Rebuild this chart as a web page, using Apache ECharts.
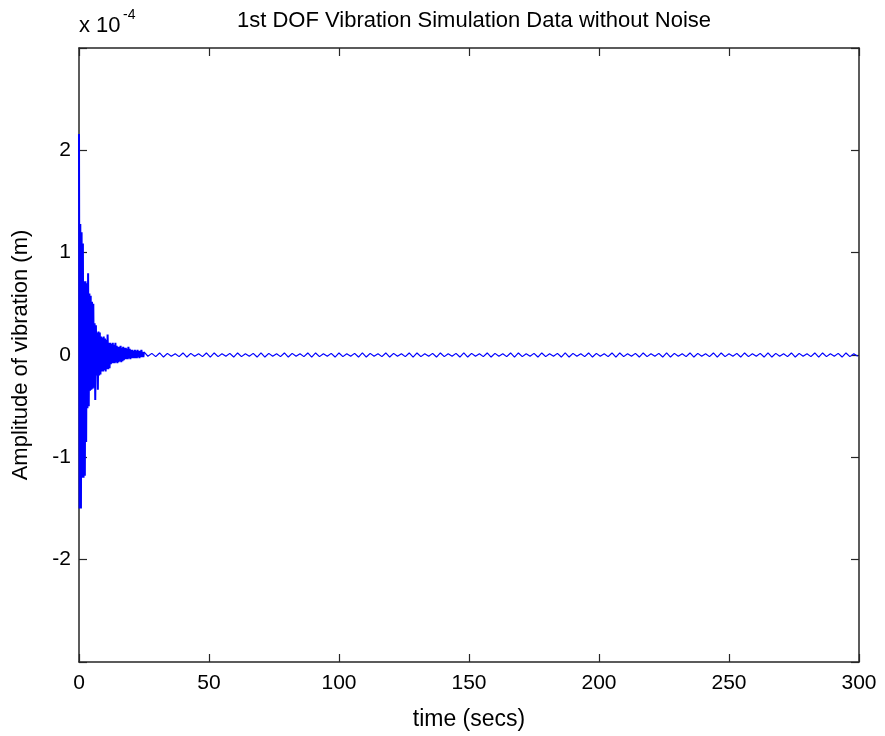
<!DOCTYPE html>
<html>
<head>
<meta charset="utf-8">
<script src="https://cdn.jsdelivr.net/npm/echarts@6/dist/echarts.min.js"></script>
<style>html,body{margin:0;padding:0;background:#fff;}#c{width:885px;height:736px;}</style>
</head>
<body>
<div id="c"></div>
<script>
// Values in units of 1e-4 m
const burstStep = 0.25;   // seconds between samples, t = 0 .. 25
const burstValues = [
  2.16,-1.50,1.28,-1.50,1.20,-1.20,1.09,-1.20,0.72,-1.18,
  0.72,-0.85,0.70,-0.52,0.80,-0.50,0.60,-0.35,0.58,-0.34,
  0.52,-0.33,0.50,-0.32,0.31,-0.44,0.29,-0.20,0.22,-0.34,
  0.23,-0.20,0.22,-0.19,0.18,-0.16,0.17,-0.16,0.18,-0.15,
  0.16,-0.16,0.15,-0.14,0.20,-0.14,0.12,-0.13,0.12,-0.09,
  0.11,-0.08,0.12,-0.08,0.10,-0.08,0.12,-0.07,0.09,-0.08,
  0.08,-0.07,0.08,-0.06,0.09,-0.07,0.07,-0.06,0.08,-0.05,
  0.07,-0.04,0.07,-0.04,0.06,-0.04,0.08,-0.03,0.06,-0.04,
  0.05,-0.03,0.05,-0.03,0.04,-0.03,0.05,-0.03,0.04,-0.03,
  0.05,-0.02,0.04,-0.03,0.04,-0.02,0.05,-0.02,0.03,-0.02,
  0.03
];
const tailStart = 26.5;
const tailStep = 1.5;    // seconds between samples, t = 26.5 .. 299.5
const tailValues = [
  -0.012,0.016,-0.016,0.02,-0.02,0.016,-0.012,0.012,-0.016,0.02,-0.02,0.016,
  -0.012,0.012,-0.016,0.02,-0.02,0.02,-0.016,0.012,-0.012,0.016,-0.02,0.02,
  -0.016,0.012,-0.012,0.016,-0.02,0.02,-0.02,0.016,-0.012,0.012,-0.016,0.02,
  -0.02,0.016,-0.012,0.012,-0.016,0.02,-0.02,0.02,-0.016,0.012,-0.012,0.016,
  -0.02,0.02,-0.016,0.012,-0.012,0.016,-0.02,0.02,-0.02,0.016,-0.012,0.012,
  -0.016,0.02,-0.02,0.016,-0.012,0.012,-0.016,0.02,-0.02,0.02,-0.016,0.012,
  -0.012,0.016,-0.02,0.02,-0.016,0.012,-0.012,0.016,-0.02,0.02,-0.02,0.016,
  -0.012,0.012,-0.016,0.02,-0.02,0.016,-0.012,0.012,-0.016,0.02,-0.02,0.02,
  -0.016,0.012,-0.012,0.016,-0.02,0.02,-0.016,0.012,-0.012,0.016,-0.02,0.02,
  -0.02,0.016,-0.012,0.012,-0.016,0.02,-0.02,0.016,-0.012,0.012,-0.016,0.02,
  -0.02,0.02,-0.016,0.012,-0.012,0.016,-0.02,0.02,-0.016,0.012,-0.012,0.016,
  -0.02,0.02,-0.02,0.016,-0.012,0.012,-0.016,0.02,-0.02,0.016,-0.012,0.012,
  -0.016,0.02,-0.02,0.02,-0.016,0.012,-0.012,0.016,-0.02,0.02,-0.016,0.012,
  -0.012,0.016,-0.02,0.02,-0.02,0.016,-0.012,0.012,-0.016,0.02,-0.02,0.016,
  -0.012,0.012,-0.016,0.02,-0.02,0.02,-0.016,0.012,-0.012,0.016,-0.02,0.02,
  -0.016,0.012,-0.012
];
const xTicks = [0, 50, 100, 150, 200, 250, 300];
const yTicks = [-2, -1, 0, 1, 2];

const burstData = burstValues.map((v, i) => [i * burstStep, v]);
const tailData = [burstData[burstData.length - 1]].concat(
  tailValues.map((v, i) => [tailStart + i * tailStep, v]));

const FONT = 'Liberation Sans, Arial, sans-serif';
const AX = '#262626';
const chart = echarts.init(document.getElementById('c'), null, {renderer: 'canvas'});
const grid = {left: 79, right: 26, top: 48, bottom: 67};
const common = {
  axisLine: {show: true, onZero: false, lineStyle: {color: AX, width: 1.5}},
  axisTick: {show: true, inside: true, length: 8, lineStyle: {color: AX, width: 1.2}},
  splitLine: {show: false}
};
chart.setOption({
  animation: false,
  backgroundColor: '#fff',
  title: {
    text: '1st DOF Vibration Simulation Data without Noise',
    left: (79 + 859) / 2, textAlign: 'center', top: 5,
    textStyle: {fontFamily: FONT, fontSize: 22, fontWeight: 'normal', color: '#000'}
  },
  grid: grid,
  xAxis: [
    Object.assign({
      type: 'value', min: 0, max: 300, interval: 50, position: 'bottom',
      name: 'time (secs)', nameLocation: 'middle', nameGap: 46,
      nameTextStyle: {fontFamily: FONT, fontSize: 23, color: '#000'},
      axisLabel: {fontFamily: FONT, fontSize: 21, color: '#000', margin: 11,
        formatter: v => xTicks.includes(v) ? String(v) : ''}
    }, common),
    Object.assign({
      type: 'value', min: 0, max: 300, interval: 50, position: 'top',
      axisLabel: {show: false}
    }, common)
  ],
  yAxis: [
    Object.assign({
      type: 'value', min: -3, max: 3, interval: 1, position: 'left',
      name: 'Amplitude of vibration (m)', nameLocation: 'middle', nameGap: 47,
      nameTextStyle: {fontFamily: FONT, fontSize: 22, color: '#000'},
      axisLabel: {fontFamily: FONT, fontSize: 21, color: '#000', margin: 8,
        formatter: v => yTicks.includes(v) ? String(v) : ''}
    }, common),
    Object.assign({
      type: 'value', min: -3, max: 3, interval: 1, position: 'right',
      axisLabel: {show: false}
    }, common)
  ],
  graphic: [
    {type: 'text', left: 79, top: 15, style: {text: 'x 10', font: '22px ' + FONT, fill: '#000'}},
    {type: 'text', left: 123, top: 8, style: {text: '-4', font: '14px ' + FONT, fill: '#000'}}
  ],
  series: [{
    type: 'line', data: burstData, showSymbol: false, sampling: null,
    lineStyle: {color: '#0000ff', width: 2}, itemStyle: {color: '#0000ff'},
    xAxisIndex: 0, yAxisIndex: 0
  }, {
    type: 'line', data: tailData, showSymbol: false, sampling: null,
    lineStyle: {color: '#0000ff', width: 1.2}, itemStyle: {color: '#0000ff'},
    xAxisIndex: 0, yAxisIndex: 0
  }]
});
</script>
</body>
</html>
